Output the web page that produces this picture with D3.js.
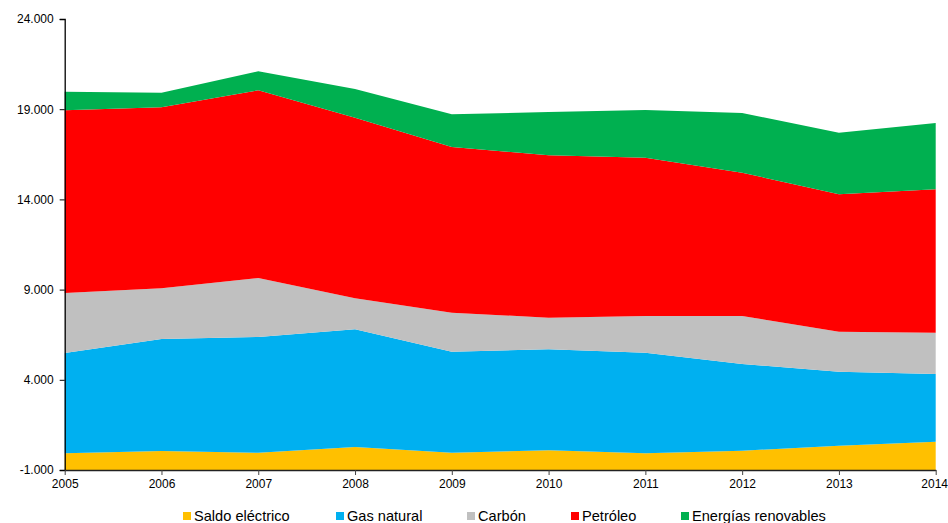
<!DOCTYPE html>
<html>
<head>
<meta charset="utf-8">
<script src="https://cdn.jsdelivr.net/npm/d3@7"></script>
<style>
  html, body { margin: 0; padding: 0; background: #fff; }
  svg { display: block; font-family: "Liberation Sans", Arial, sans-serif; }
</style>
</head>
<body>
<svg id="chart" width="948" height="523"></svg>
<script>
const years = [2005, 2006, 2007, 2008, 2009, 2010, 2011, 2012, 2013, 2014];
const seriesNames = ["Saldo eléctrico", "Gas natural", "Carbón", "Petróleo", "Energías renovables"];
const saldoElectrico = [-74, 53, -41, 275, -41, 92, -74, 70, 347, 569];
const gasNatural = [5559, 6208, 6413, 6524, 5598, 5598, 5576, 4806, 4102, 3752];
const carbon = [3326, 2811, 3271, 1718, 2162, 1752, 2034, 2660, 2217, 2290];
const petroleo = [10127, 10032, 10404, 10011, 9185, 9002, 8775, 7943, 7616, 7948];
const renovables = [1031, 810, 1053, 1591, 1812, 2400, 2644, 3310, 3415, 3675];
const colors = ["#FFC000", "#00B0F0", "#C0C0C0", "#FF0000", "#00B050"];
const yTicks = [-1000, 4000, 9000, 14000, 19000, 24000];

const seriesValues = [saldoElectrico, gasNatural, carbon, petroleo, renovables];
const rows = years.map((yr, i) => {
  const r = { year: yr };
  seriesNames.forEach((n, k) => { r[n] = seriesValues[k][i]; });
  return r;
});

const svg = d3.select("#chart");
const x = d3.scaleLinear().domain([2005, 2014]).range([64.7, 935.7]);
const y = d3.scaleLinear().domain([-1000, 24000]).range([470, 19]);

const stacked = d3.stack().keys(seriesNames)(rows);

const area = (isBottom) => d3.area()
  .x(d => x(d.data.year))
  .y0(d => isBottom ? y(y.domain()[0]) : y(d[0]))
  .y1(d => y(d[1]));

svg.append("g").selectAll("path")
  .data(stacked)
  .join("path")
  .attr("d", (s, i) => area(i === 0)(s))
  .attr("fill", (s, i) => colors[i])
  .attr("stroke", "none");

const locale = d3.formatLocale({ decimal: ",", thousands: ".", grouping: [3], currency: ["", "€"], minus: "-" });
const fmt = locale.format(",.0f");

const yAxis = svg.append("g")
  .attr("transform", "translate(64.7,0)")
  .call(d3.axisLeft(y).tickValues(yTicks).tickFormat(fmt).tickSize(5).tickPadding(6));
yAxis.select(".domain").attr("stroke", "#000").attr("stroke-width", 1.3);
yAxis.selectAll(".tick line").attr("stroke", "#000");
yAxis.selectAll("text").attr("font-size", 12).attr("fill", "#000")
  .attr("font-family", "'Liberation Sans', Arial, sans-serif");

const xAxis = svg.append("g")
  .attr("transform", "translate(0,470)")
  .call(d3.axisBottom(x).tickValues(years).tickFormat(d3.format("d")).tickSize(5).tickPadding(4).tickSizeOuter(0));
xAxis.select(".domain").attr("stroke", "#222").attr("stroke-width", 1.3);
xAxis.selectAll(".tick line").attr("stroke", "#444");
xAxis.selectAll("text").attr("font-size", 12).attr("fill", "#000")
  .attr("font-family", "'Liberation Sans', Arial, sans-serif");
// keep the last year label inside the window
xAxis.selectAll(".tick text").filter(d => d === years[years.length - 1])
  .attr("text-anchor", "end").attr("dx", 947.5 - x(years[years.length - 1]));

// Legend
const legendX = [183, 336, 467, 571, 681];
const legend = svg.append("g");
seriesNames.forEach((n, i) => {
  legend.append("rect")
    .attr("x", legendX[i]).attr("y", 512)
    .attr("width", 8).attr("height", 8)
    .attr("fill", colors[i]);
  legend.append("text")
    .attr("x", legendX[i] + 11).attr("y", 521)
    .attr("font-size", 14.6)
    .attr("fill", "#000")
    .text(n);
});
</script>
</body>
</html>
